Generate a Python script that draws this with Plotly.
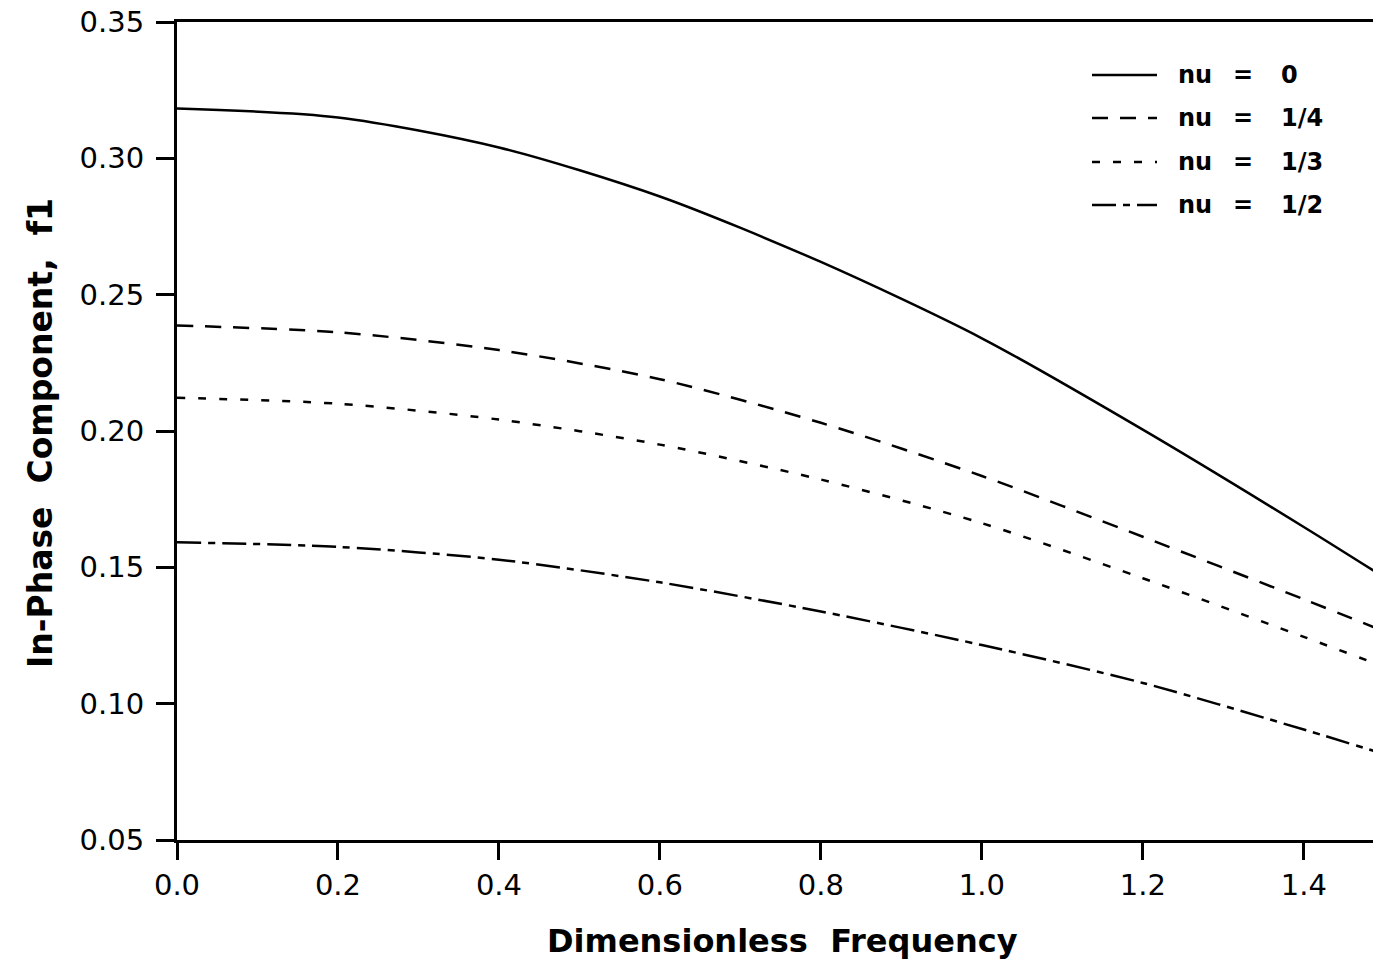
import plotly.graph_objects as go

# Dimensionless frequency samples
freq = [0.0, 0.2, 0.4, 0.6, 0.8, 1.0, 1.2, 1.4, 1.5]

# In-phase component f1 for each Poisson's ratio
f1_nu_0 = [0.3183, 0.3150, 0.3040, 0.2860, 0.2620, 0.2340, 0.2005, 0.1648, 0.1463]
f1_nu_1_4 = [0.2387, 0.2362, 0.2297, 0.2190, 0.2030, 0.1835, 0.1612, 0.1383, 0.1265]
f1_nu_1_3 = [0.2122, 0.2100, 0.2042, 0.1950, 0.1822, 0.1662, 0.1460, 0.1245, 0.1135]
f1_nu_1_2 = [0.1592, 0.1575, 0.1528, 0.1445, 0.1338, 0.1215, 0.1076, 0.0905, 0.0815]

labels = ["0", "1/4", "1/3", "1/2"]
series = [f1_nu_0, f1_nu_1_4, f1_nu_1_3, f1_nu_1_2]
dashes = ["solid", "16px,12px", "8px,13px", "24px,7px,7px,7px"]

x_ticks = [0.0, 0.2, 0.4, 0.6, 0.8, 1.0, 1.2, 1.4]
y_ticks = [0.05, 0.10, 0.15, 0.20, 0.25, 0.30, 0.35]

W, H = 1373, 963
ML, MR, MT, MB = 177, 0, 22, 123
PW, PH = W - ML - MR, H - MT - MB

FONT = "DejaVu Sans"

fig = go.Figure()
for lab, ys, dash in zip(labels, series, dashes):
    fig.add_trace(go.Scatter(
        x=freq, y=ys, mode="lines", name=f"nu = {lab}",
        line=dict(color="black", width=2.5, dash=dash, shape="spline", smoothing=0.8),
        showlegend=False,
    ))


def px_x(px):
    return (px - ML) / PW


def px_y(py):
    return (H - MB - py) / PH


# Legend: line samples with labels
row_y = [75, 118, 162, 205]
shapes = []
annotations = []
for lab, dash, py in zip(labels, dashes, row_y):
    shapes.append(dict(
        type="line", xref="paper", yref="paper",
        x0=px_x(1092), x1=px_x(1157), y0=px_y(py), y1=px_y(py),
        line=dict(color="black", width=2.5, dash=dash),
    ))
    lf = dict(family=FONT, size=24, color="black", weight="bold")
    annotations.append(dict(text="nu", x=px_x(1176), y=px_y(py), xref="paper", yref="paper",
                            xanchor="left", yanchor="middle", showarrow=False, font=lf))
    annotations.append(dict(text="=", x=px_x(1243), y=px_y(py), xref="paper", yref="paper",
                            xanchor="center", yanchor="middle", showarrow=False, font=lf))
    annotations.append(dict(text=lab, x=px_x(1279), y=px_y(py), xref="paper", yref="paper",
                            xanchor="left", yanchor="middle", showarrow=False, font=lf))

# Axis titles
title_font = dict(family=FONT, size=32, color="black", weight="bold")
annotations.append(dict(text="Dimensionless  Frequency", x=px_x(782), y=px_y(941),
                        xref="paper", yref="paper", xanchor="center", yanchor="middle",
                        showarrow=False, font=title_font))
annotations.append(dict(text="In-Phase  Component,  f1", x=px_x(40), y=px_y(433),
                        xref="paper", yref="paper", xanchor="center", yanchor="middle",
                        textangle=-90, showarrow=False,
                        font=dict(family=FONT, size=33, color="black", weight="bold")))

fig.update_layout(
    width=W, height=H,
    margin=dict(l=ML, r=MR, t=MT, b=MB, autoexpand=False),
    paper_bgcolor="white", plot_bgcolor="white",
    shapes=shapes, annotations=annotations,
    xaxis=dict(
        range=[0, 1.486], tickvals=x_ticks, ticktext=[f"{v:.1f}" for v in x_ticks],
        showgrid=False, zeroline=False,
        showline=True, linecolor="black", linewidth=3, mirror=True,
        ticks="outside", ticklen=17, tickwidth=2.5, tickcolor="black",
        tickfont=dict(family=FONT, size=29, color="black"),
    ),
    yaxis=dict(
        range=[0.05, 0.35], tickvals=y_ticks, ticktext=[f"{v:.2f}" for v in y_ticks],
        showgrid=False, zeroline=False,
        showline=True, linecolor="black", linewidth=3, mirror=False,
        ticks="outside", ticklen=18, tickwidth=2.5, tickcolor="black",
        ticklabelstandoff=6,
        tickfont=dict(family=FONT, size=29, color="black"),
    ),
)

fig.write_html("out.html")
